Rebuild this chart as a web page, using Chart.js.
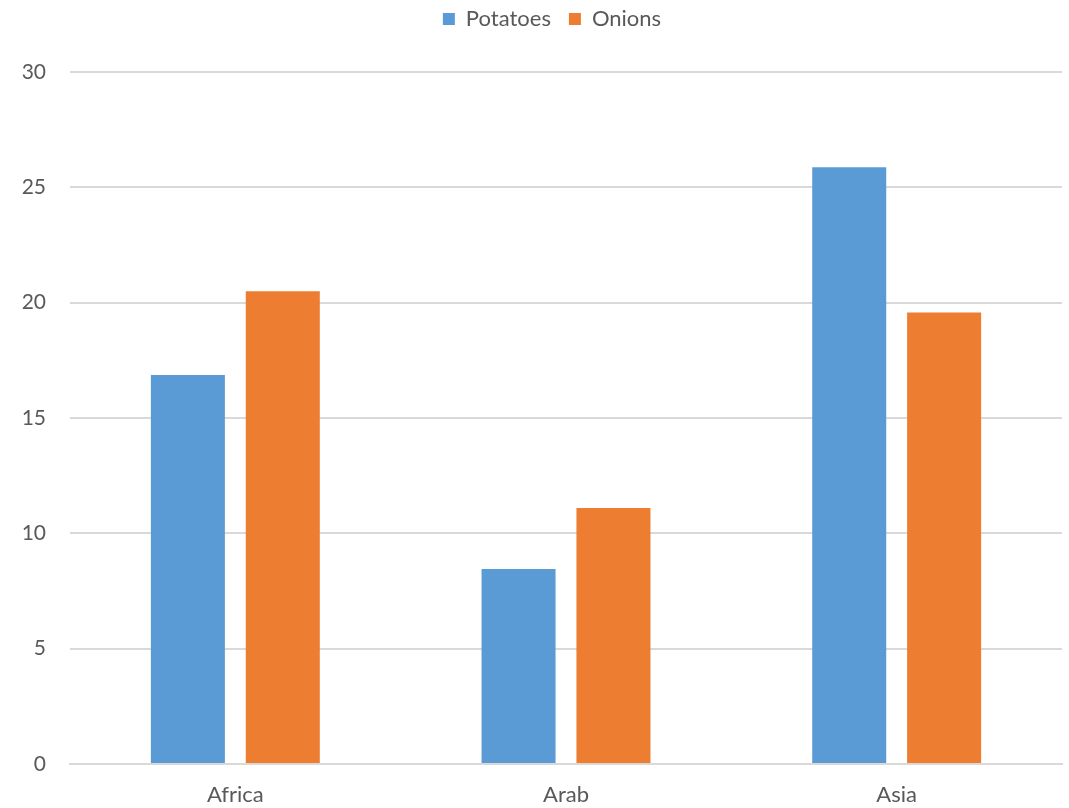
<!DOCTYPE html>
<html>
<head>
<meta charset="utf-8">
<script src="https://cdn.jsdelivr.net/npm/chart.js@4"></script>
<style>
    html, body { margin: 0; padding: 0; background: #fff; }
    #wrap { width: 1069px; height: 808px; position: relative; }
</style>
</head>
<body>
<div id="wrap"><canvas id="chart"></canvas></div>
<script>
const categories = ['Africa', 'Arab', 'Asia'];
const potatoes = [16.86, 8.45, 25.87];
const onions = [20.5, 11.1, 19.57];
const yTicks = [0, 5, 10, 15, 20, 25, 30];

const textColor = '#595959';
const gridColor = '#d9d9d9';
Chart.defaults.font.family = 'Lato, "Open Sans", sans-serif';
Chart.defaults.font.size = 22;
Chart.defaults.color = textColor;

// push the plot area down below the legend, and nudge the legend a bit right
const legendGap = {
    id: 'legendGap',
    beforeInit(chart) {
        const fit = chart.legend.fit;
        chart.legend.fit = function () {
            fit.bind(this)();
            this.height = 72 + 10;
        };
    },
    afterLayout(chart) {
        chart.legend.left += 21;
        chart.legend.right += 21;
    }
};

new Chart(document.getElementById('chart'), {
    type: 'bar',
    data: {
        labels: categories,
        datasets: [{
            label: 'Potatoes',
            data: potatoes,
            backgroundColor: '#5b9bd5'
        }, {
            label: 'Onions',
            data: onions,
            backgroundColor: '#ed7d31'
        }]
    },
    options: {
        responsive: true,
        maintainAspectRatio: false,
        animation: false,
        layout: { padding: { left: 0, right: 7, top: -10, bottom: 0 } },
        datasets: {
            bar: { categoryPercentage: 0.574, barPercentage: 0.78 }
        },
        plugins: {
            legend: {
                position: 'top',
                labels: {
                    boxWidth: 12,
                    boxHeight: 12,
                    padding: 18,
                    color: textColor
                }
            },
            tooltip: { enabled: false }
        },
        scales: {
            x: {
                grid: { display: false, drawTicks: false },
                border: { display: true, color: gridColor, width: 2 },
                ticks: { padding: 18, color: textColor },
                afterFit: (scale) => { scale.height = 44; }
            },
            y: {
                min: 0,
                max: 30,
                afterBuildTicks: (scale) => {
                    scale.ticks = yTicks.map(v => ({ value: v }));
                },
                grid: { color: gridColor, lineWidth: 2, drawTicks: false },
                border: { display: false },
                ticks: { padding: 24, color: textColor, font: { size: 21 } },
                afterFit: (scale) => { scale.width = 70; }
            }
        }
    },
    plugins: [legendGap]
});
</script>
</body>
</html>
